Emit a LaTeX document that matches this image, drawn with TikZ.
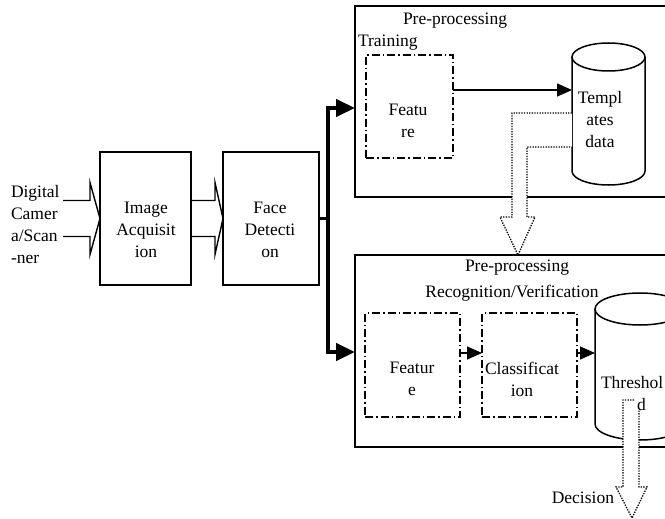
\documentclass[tikz,border=0pt]{standalone}
\usepackage{fontspec}
\setmainfont{Liberation Serif}
\usetikzlibrary{arrows.meta,calc}
\begin{document}
\begin{tikzpicture}[x=1pt,y=-1pt,
  every node/.style={font=\fontsize{17.5}{22}\selectfont, inner sep=0pt, outer sep=0pt},
  box/.style={draw, line width=1.6pt},
  dbox/.style={draw, line width=1.5pt, dash pattern=on 8pt off 3pt on 1.5pt off 3pt},
  ln/.style={line width=1.5pt},
  tipa/.style={-{Triangle[length=15pt,width=13pt]}},
  bus/.style={line width=4.5pt, -{Triangle[length=19pt,width=17pt]}},
  hollow/.style={draw, line width=1.4pt, line join=miter},
  dotarrow/.style={draw, line width=1.3pt, dash pattern=on 1.3pt off 1.3pt, fill=white},
  lbl/.style={align=center},
]
\useasboundingbox (0,0) rectangle (665,519);
\clip (0,0) rectangle (665,519);

% left part
\node[align=left, anchor=west] (src) at (11,225) {Digital\\Camer\\a/Scan\\-ner};
\node[box, minimum width=91pt, minimum height=133pt] (ia) at (145.5,218.5) {};
\node[lbl] (iat) at (146,230) {Image\\Acquisit\\ion};
\node[box, minimum width=96pt, minimum height=133pt] (fd) at (271,218.5) {};
\node[lbl] (fdt) at (270,230) {Face\\Detecti\\on};

% block arrows
\draw[hollow] ($(ia.west)+(-37,-18)$) -- ($(ia.west)+(-10,-18)$) -- ($(ia.west)+(-10,-36)$)
  -- (ia.west) -- ($(ia.west)+(-10,36)$) -- ($(ia.west)+(-10,18)$) -- ($(ia.west)+(-37,18)$);
\draw[hollow] ($(ia.east)+(0,-18)$) -- ($(fd.west)+(-8,-18)$) -- ($(fd.west)+(-8,-36)$)
  -- (fd.west) -- ($(fd.west)+(-8,36)$) -- ($(fd.west)+(-8,18)$) -- ($(ia.east)+(0,18)$);

% big boxes
\node[box, minimum width=335pt, minimum height=191pt] (tb) at (522.5,101.5) {};
\node[box, minimum width=335pt, minimum height=192pt] (bb) at (522.5,351) {};

% bus
\coordinate (bus) at (328,218.5);
\draw[line width=2.5pt] (fd.east) -- (bus);
\draw[bus] ($(bus)+(0,2)$) -- (328,108) -- (tb.west |- 0,108);
\draw[bus] ($(bus)+(0,-2)$) -- (328,352) -- (bb.west |- 0,352);

% top box content
\node (tpp) at (455,21) {Pre-processing};
\node[anchor=west] (ttr) at (358,43) {Training};
\node[dbox, minimum width=87pt, minimum height=103pt] (trfe) at (409.5,106.5) {};
\node[lbl] (trfet) at (408,121) {Featu\\re};

% Templates cylinder
\node[minimum width=73pt, minimum height=142pt] (tdb) at (608.5,114) {};
\draw[ln] ([yshift=-14pt]tdb.north west) -- ([yshift=14pt]tdb.south west)
  arc[start angle=180, end angle=0, x radius=36.5, y radius=14] -- ([yshift=-14pt]tdb.north east);
\draw[ln] ([yshift=-14pt]tdb.north) ellipse[x radius=36.5, y radius=14];
\draw[ln, tipa] (trfe.east |- 0,90) -- (tdb.west |- 0,90);

% bottom box content
\node[minimum width=90pt, minimum height=147pt] (thr) at (640,366.5) {};
\draw[ln, fill=white] ([yshift=-16pt]thr.north west) -- ([yshift=16pt]thr.south west)
  arc[start angle=180, end angle=0, x radius=45, y radius=16] -- ([yshift=-16pt]thr.north east);
\draw[ln] ([yshift=-16pt]thr.north) ellipse[x radius=45, y radius=16];

\node (bpp) at (517,268) {Pre-processing};
\node (brv) at (512,293) {Recognition/Verification};
\node[dbox, minimum width=95pt, minimum height=104pt] (rfe) at (412.5,365) {};
\node[lbl] (rfet) at (412,379) {Featur\\e};
\node[dbox, minimum width=95pt, minimum height=104pt] (cls) at (529.5,365) {};
\node[lbl] (clst) at (522,379) {Classificat\\ion};
\draw[ln, tipa] (rfe.east |- 0,353) -- (cls.west |- 0,353);
\draw[ln, tipa] (cls.east |- 0,353) -- (thr.west |- 0,353);

% dotted hollow arrow templates -> recognition
\draw[dotarrow] (tdb.west |- 0,113) -- (512,113) -- (512,217) -- (500,217) -- (bb.north -| 518,0)
  -- (535,217) -- (527,217) -- (527,147) -- (tdb.west |- 0,147);
\node[lbl] (tdbt) at (600,120) {Templ\\ates\\data};

% dotted hollow arrow threshold -> decision
\coordinate (dec) at (632,518);
\draw[dotarrow] (634,400) -- (623,400) -- (623,487) -- (616,487) -- (dec) -- (647,487) -- (639,487) -- (639,410);
\node[align=left, anchor=north west] (thrt) at (601,376) {Threshol\\\hspace*{36pt}d};
\node[anchor=east] (dect) at (614,498) {Decision};
\end{tikzpicture}
\end{document}
